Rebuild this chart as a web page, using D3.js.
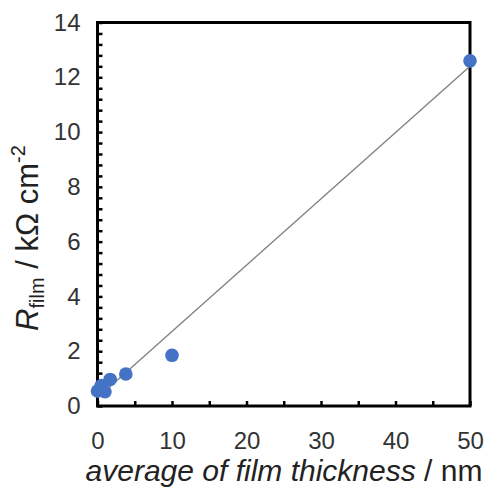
<!DOCTYPE html>
<html>
<head>
<meta charset="utf-8">
<script src="https://cdn.jsdelivr.net/npm/d3@7/dist/d3.min.js"></script>
<style>
  body { margin: 0; background: #fff; }
  svg { display: block; font-family: Arial, "Liberation Sans", sans-serif; }
  .domain { display: none; }
</style>
</head>
<body>
<div id="chart"></div>
<script>
// measured points
var thickness = [0, 0.5, 1.0, 1.7, 3.8, 10, 50];
var rfilm = [0.55, 0.75, 0.52, 0.97, 1.17, 1.85, 12.6];

// fitted line end points
var fitX = [0, 50];
var fitY = [0.3, 12.4];

var xTicks = [0, 10, 20, 30, 40, 50];
var yTicks = [0, 2, 4, 6, 8, 10, 12, 14];

var width = 491;
var height = 487;

var m = { l: 97.5, t: 22.5, r: 21, b: 81 };

var svg = d3
  .select("#chart")
  .append("svg")
  .attr("width", width)
  .attr("height", height);

var x = d3.scaleLinear().domain([0, 50]).range([m.l, width - m.r]);
var y = d3.scaleLinear().domain([0, 14]).range([height - m.b, m.t]);

// inward minor ticks, every 5 on x and every 0.4 on y
var xMinor = d3.range(0, 50.01, 5);
var yMinor = d3.range(0, 14.01, 0.4);

svg
  .append("g")
  .attr("transform", `translate(0,${y(0)})`)
  .call(d3.axisBottom(x).tickValues(xMinor).tickSizeInner(-5).tickSizeOuter(0).tickFormat(""))
  .selectAll("line")
  .attr("stroke", "#000")
  .attr("stroke-width", 2.5);

svg
  .append("g")
  .attr("transform", `translate(${x(0)},0)`)
  .call(d3.axisLeft(y).tickValues(yMinor).tickSizeInner(-5).tickSizeOuter(0).tickFormat(""))
  .selectAll("line")
  .attr("stroke", "#000")
  .attr("stroke-width", 2.5);

// tick labels
svg
  .append("g")
  .attr("transform", `translate(0,${y(0)})`)
  .call(d3.axisBottom(x).tickValues(xTicks).tickSize(0).tickPadding(26))
  .selectAll("text")
  .attr("font-size", 24)
  .attr("font-family", "Arial, 'Liberation Sans', sans-serif")
  .attr("fill", "#333");

svg
  .append("g")
  .attr("transform", `translate(${x(0)},0)`)
  .call(d3.axisLeft(y).tickValues(yTicks).tickSize(0).tickPadding(17))
  .selectAll("text")
  .attr("font-size", 24)
  .attr("font-family", "Arial, 'Liberation Sans', sans-serif")
  .attr("fill", "#333");

// plot box
svg
  .append("rect")
  .attr("x", x(0))
  .attr("y", y(14))
  .attr("width", x(50) - x(0))
  .attr("height", y(0) - y(14))
  .attr("fill", "none")
  .attr("stroke", "#000")
  .attr("stroke-width", 3);

// fit line
svg
  .append("line")
  .attr("x1", x(fitX[0]))
  .attr("y1", y(fitY[0]))
  .attr("x2", x(fitX[1]))
  .attr("y2", y(fitY[1]))
  .attr("stroke", "#7f7f7f")
  .attr("stroke-width", 1.3);

// points
svg
  .selectAll("circle.pt")
  .data(thickness)
  .enter()
  .append("circle")
  .attr("class", "pt")
  .attr("cx", (d) => x(d))
  .attr("cy", (d, i) => y(rfilm[i]))
  .attr("r", 6.8)
  .attr("fill", "#4472c4");

// axis titles
svg
  .append("text")
  .attr("x", 284)
  .attr("y", 481)
  .attr("text-anchor", "middle")
  .attr("font-size", 30)
  .attr("font-style", "italic")
  .attr("fill", "#222")
  .text("average of film thickness")
  .append("tspan")
  .attr("font-style", "normal")
  .text(" / nm");

var yt = svg
  .append("text")
  .attr("transform", "translate(38,238) rotate(-90)")
  .attr("text-anchor", "middle")
  .attr("font-size", 31)
  .attr("fill", "#222");

yt.append("tspan").attr("font-style", "italic").text("R");
yt.append("tspan").attr("font-size", 20).attr("dy", 6).text("film");
yt.append("tspan").attr("dy", -6).text(" / kΩ cm");
yt.append("tspan").attr("font-size", 20).attr("dy", -13).text("-2");
</script>
</body>
</html>
